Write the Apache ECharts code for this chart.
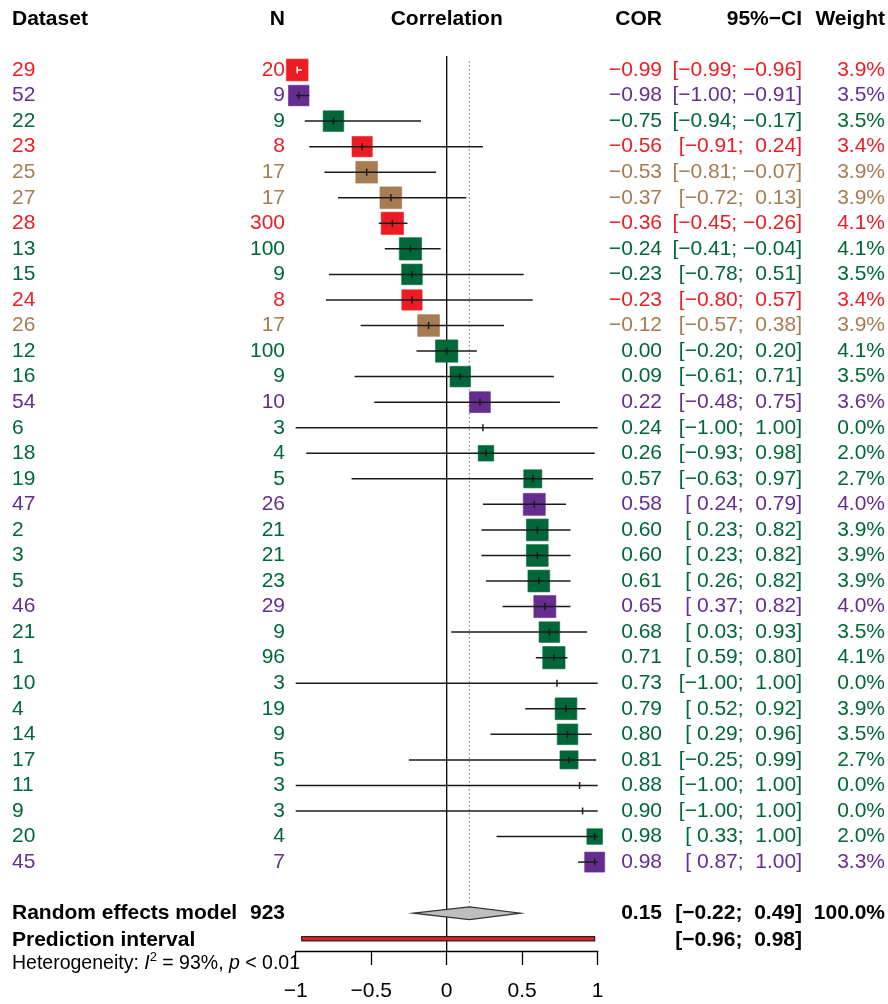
<!DOCTYPE html>
<html>
<head>
<meta charset="utf-8">
<title>Forest plot of correlations</title>
<script src="https://cdn.jsdelivr.net/npm/echarts@6/dist/echarts.min.js"></script>
<style>
  html, body { margin: 0; padding: 0; background: #fff; }
  #chart { width: 888px; height: 1004px; }
</style>
</head>
<body>
<div id="chart"></div>
<script>
// Study-level correlations with 95% confidence intervals and random-effects weights
const datasets = ['29','52','22','23','25','27','28','13','15','24','26','12','16','54','6','18',
                  '19','47','2','3','5','46','21','1','10','4','14','17','11','9','20','45'];
const sampleSizes = [20,9,9,8,17,17,300,100,9,8,17,100,9,10,3,4,
                     5,26,21,21,23,29,9,96,3,19,9,5,3,3,4,7];
const cor = [-0.99,-0.98,-0.75,-0.56,-0.53,-0.37,-0.36,-0.24,-0.23,-0.23,-0.12,0.00,0.09,0.22,0.24,0.26,
             0.57,0.58,0.60,0.60,0.61,0.65,0.68,0.71,0.73,0.79,0.80,0.81,0.88,0.90,0.98,0.98];
const ciLower = [-0.99,-1.00,-0.94,-0.91,-0.81,-0.72,-0.45,-0.41,-0.78,-0.80,-0.57,-0.20,-0.61,-0.48,-1.00,-0.93,
                 -0.63,0.24,0.23,0.23,0.26,0.37,0.03,0.59,-1.00,0.52,0.29,-0.25,-1.00,-1.00,0.33,0.87];
const ciUpper = [-0.96,-0.91,-0.17,0.24,-0.07,0.13,-0.26,-0.04,0.51,0.57,0.38,0.20,0.71,0.75,1.00,0.98,
                 0.97,0.79,0.82,0.82,0.82,0.82,0.93,0.80,1.00,0.92,0.96,0.99,1.00,1.00,1.00,1.00];
const weights = [3.9,3.5,3.5,3.4,3.9,3.9,4.1,4.1,3.5,3.4,3.9,4.1,3.5,3.6,0.0,2.0,
                 2.7,4.0,3.9,3.9,3.9,4.0,3.5,4.1,0.0,3.9,3.5,2.7,0.0,0.0,2.0,3.3];
const groups = ['red','purple','green','red','brown','brown','red','green','green','red','brown','green','green','purple','green','green',
                'green','purple','green','green','green','purple','green','green','green','green','green','green','green','green','green','purple'];

// Pooled random-effects estimate and prediction interval
const pooled = { n: 923, cor: 0.15, lower: -0.22, upper: 0.49, weight: 100.0 };
const prediction = { lower: -0.96, upper: 0.98 };
const heterogeneity = { i2: '93%', p: '< 0.01' };

const xTicks = [-1, -0.5, 0, 0.5, 1];
const headers = ['Dataset', 'N', 'Correlation', 'COR', '95%\u2212CI', 'Weight'];

const palette = { red: '#ED1C24', purple: '#662D91', green: '#006838', brown: '#A67C52' };
const FONT = '"Liberation Sans", Arial, Helvetica, sans-serif';
const FS = 21;

// Text column anchors (pixels)
const COL_DATASET = 12, COL_N = 285, COL_COR = 662, COL_CI = 802, COL_W = 885;
const ROW_SUMMARY = 33, ROW_PRED = 34, ROW_HEADER = -2;
const MAX_SIDE = 22.3, MAX_W = 4.1;

const minus = v => (v < 0 ? '\u2212' : '') + Math.abs(v).toFixed(2);
const padded = v => (v < 0 ? '\u2212' : ' ') + Math.abs(v).toFixed(2);
const ciText = (lo, hi) => '[' + padded(lo) + '; ' + padded(hi) + ']';

function txt(text, x, y, color, align, bold) {
  return {
    type: 'text',
    style: {
      text: text, x: x, y: y, fill: color,
      font: (bold ? 'bold ' : '') + FS + 'px ' + FONT,
      align: align, textAlign: align,
      verticalAlign: 'middle', textVerticalAlign: 'middle'
    }
  };
}

function renderStudy(params, api) {
  const i = params.dataIndex;
  const y = api.coord([0, i])[1];
  const xc = api.coord([cor[i], i])[0];
  const xl = api.coord([ciLower[i], i])[0];
  const xh = api.coord([ciUpper[i], i])[0];
  const color = palette[groups[i]];
  const side = weights[i] > 0 ? MAX_SIDE * Math.sqrt(weights[i] / MAX_W) : 0;
  const inside = side > 0 && xl >= xc - side / 2 && xh <= xc + side / 2;
  const lineColor = inside ? '#ffffff' : '#1a1a1a';
  const children = [];
  if (side > 0) {
    children.push({
      type: 'rect',
      shape: { x: xc - side / 2, y: y - side / 2, width: side, height: side },
      style: { fill: color, stroke: color, lineWidth: 0.6, opacity: 1 }
    });
  }
  children.push({
    type: 'line', shape: { x1: xl, y1: y, x2: xh, y2: y },
    style: { stroke: lineColor, lineWidth: 1.5 }
  });
  children.push({
    type: 'line', shape: { x1: xc, y1: y - 3.5, x2: xc, y2: y + 3.5 },
    style: { stroke: lineColor, lineWidth: 1.5 }
  });
  children.push(txt(datasets[i], COL_DATASET, y, color, 'left'));
  children.push(txt(String(sampleSizes[i]), COL_N, y, color, 'right'));
  children.push(txt(minus(cor[i]), COL_COR, y, color, 'right'));
  children.push(txt(ciText(ciLower[i], ciUpper[i]), COL_CI, y, color, 'right'));
  children.push(txt(weights[i].toFixed(1) + '%', COL_W, y, color, 'right'));
  return { type: 'group', children: children };
}

function renderReference(params, api) {
  const x0 = api.coord([0, 0])[0];
  const xp = api.coord([pooled.cor, 0])[0];
  const top = api.coord([0, -0.55])[1];
  const dotTop = api.coord([0, -0.35])[1];
  const dotBottom = api.coord([0, ROW_SUMMARY])[1] - 8;
  const axisY = params.coordSys.y + params.coordSys.height;
  return {
    type: 'group',
    children: [
      { type: 'line', shape: { x1: x0, y1: top, x2: x0, y2: axisY },
        style: { stroke: '#000', lineWidth: 1.3 } },
      { type: 'line', shape: { x1: xp, y1: dotTop, x2: xp, y2: dotBottom },
        style: { stroke: '#8c8c8c', lineWidth: 1.3, lineDash: [1.5, 2.5] } }
    ]
  };
}

function renderSummary(params, api) {
  const yS = api.coord([0, ROW_SUMMARY])[1];
  const yP = api.coord([0, ROW_PRED])[1];
  const yH = api.coord([0, ROW_HEADER])[1];
  const xl = api.coord([pooled.lower, 0])[0];
  const xc = api.coord([pooled.cor, 0])[0];
  const xh = api.coord([pooled.upper, 0])[0];
  const pl = api.coord([prediction.lower, 0])[0];
  const ph = api.coord([prediction.upper, 0])[0];
  const half = 6.4;
  return {
    type: 'group',
    children: [
      { type: 'polygon',
        shape: { points: [[xl, yS], [xc, yS - half], [xh, yS], [xc, yS + half]] },
        style: { fill: '#BEBEBE', stroke: '#333', lineWidth: 1.2 } },
      { type: 'rect', shape: { x: pl, y: yP - 2.2, width: ph - pl, height: 4.4 },
        style: { fill: '#E41E26', stroke: '#222', lineWidth: 1.2 } },
      txt('Random effects model', COL_DATASET, yS, '#000', 'left', true),
      txt(String(pooled.n), COL_N, yS, '#000', 'right', true),
      txt(minus(pooled.cor), COL_COR, yS, '#000', 'right', true),
      txt(ciText(pooled.lower, pooled.upper), COL_CI, yS, '#000', 'right', true),
      txt(pooled.weight.toFixed(1) + '%', COL_W, yS, '#000', 'right', true),
      txt('Prediction interval', COL_DATASET, yP + 1, '#000', 'left', true),
      txt(ciText(prediction.lower, prediction.upper), COL_CI, yP + 1, '#000', 'right', true),
      txt(headers[0], COL_DATASET, yH, '#000', 'left', true),
      txt(headers[1], COL_N, yH, '#000', 'right', true),
      txt(headers[2], api.coord([0, 0])[0], yH, '#000', 'center', true),
      txt(headers[3], COL_COR, yH, '#000', 'right', true),
      txt(headers[4], COL_CI, yH, '#000', 'right', true),
      txt(headers[5], COL_W, yH, '#000', 'right', true)
    ]
  };
}

const chart = echarts.init(document.getElementById('chart'), null, { renderer: 'canvas' });
chart.setOption({
  animation: false,
  backgroundColor: '#ffffff',
  grid: { left: 295.7, right: 290.3, top: 6.125, bottom: 53 },
  xAxis: {
    type: 'value', min: xTicks[0], max: xTicks[xTicks.length - 1], interval: 0.5,
    position: 'bottom',
    splitLine: { show: false },
    axisLine: { show: true, onZero: false, lineStyle: { color: '#000', width: 1.3 } },
    axisTick: { show: true, length: 14, lineStyle: { color: '#000', width: 1.3 } },
    axisLabel: {
      margin: 30, fontSize: FS, fontFamily: FONT, color: '#000',
      formatter: v => (v < 0 ? '\u2212' : '') + Math.abs(v)
    }
  },
  yAxis: { type: 'value', inverse: true, min: -2.5, max: 34.48, show: false },
  series: [
    { type: 'custom', name: 'reference', clip: false, silent: true,
      renderItem: renderReference, data: [[0, 0]] },
    { type: 'custom', name: 'studies', clip: false, silent: true,
      renderItem: renderStudy,
      encode: { x: [0, 2, 3], y: 1 },
      data: cor.map((c, i) => [c, i, ciLower[i], ciUpper[i]]) },
    { type: 'custom', name: 'summary', clip: false, silent: true,
      renderItem: renderSummary, data: [[pooled.cor, ROW_SUMMARY]] }
  ],
  graphic: [{
    type: 'text', left: 12, top: 951,
    style: {
      text: '{n|Heterogeneity: }{i|I}{s|2}{n| = ' + heterogeneity.i2 + ', }{i|p}{n| ' + heterogeneity.p + '}',
      rich: {
        n: { fontSize: 19.5, fontFamily: FONT, fill: '#000', color: '#000', lineHeight: 26 },
        i: { fontSize: 19.5, fontFamily: FONT, fontStyle: 'italic', fill: '#000', color: '#000', lineHeight: 26 },
        s: { fontSize: 13, fontFamily: FONT, fill: '#000', color: '#000', verticalAlign: 'top', lineHeight: 26 }
      }
    }
  }]
});
</script>
</body>
</html>
